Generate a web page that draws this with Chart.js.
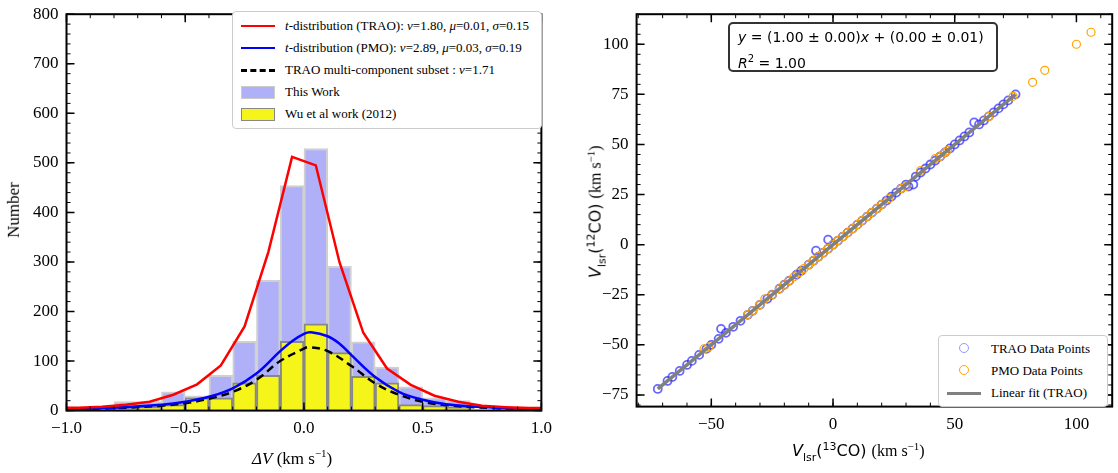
<!DOCTYPE html>
<html><head><meta charset="utf-8">
<script src="https://cdn.jsdelivr.net/npm/chart.js@4"></script>
<style>
body{margin:0;background:#fff;font-family:"Liberation Serif",serif;overflow:hidden;}
.box{position:absolute;}
.lbl{position:absolute;font-size:17px;color:#000;white-space:nowrap;}
.leg{position:absolute;background:#fff;border:1.5px solid #ccc;border-radius:4px;font-size:13px;}
.row{display:flex;align-items:center;height:22px;}
.sw{width:34px;margin:0 10px 0 8px;}
i{font-style:italic;}
</style></head><body>
<div class="box" style="left:0;top:-4px;width:560px;height:473px"><canvas id="hist"></canvas></div>
<div class="box" style="left:560px;top:-4px;width:558px;height:473px"><canvas id="scat"></canvas></div>

<div class="lbl" style="left:-14px;top:200px;transform:rotate(-90deg)">Number</div>
<div class="lbl" style="left:252px;top:447px"><i>ΔV</i> (km s<sup style="font-size:11px">−1</sup>)</div>
<div class="lbl" style="left:530px;top:200px;transform:rotate(-90deg);font-family:'DejaVu Sans';font-size:16px"><i>V</i><sub style="font-size:11px">lsr</sub>(<sup style="font-size:11px">12</sup>CO) <span style="font-family:'Liberation Serif'">(km s<sup style="font-size:11px">−1</sup>)</span></div>
<div class="lbl" style="left:792px;top:440px;font-family:'DejaVu Sans';font-size:16px"><i>V</i><sub style="font-size:11px">lsr</sub>(<sup style="font-size:11px">13</sup>CO) <span style="font-family:'Liberation Serif'">(km s<sup style="font-size:11px">−1</sup>)</span></div>

<div class="leg" style="left:232px;top:11px;width:308px;padding:3px 0">
 <div class="row"><div class="sw" style="border-top:2.5px solid red"></div><span><i>t</i>-distribution (TRAO): <i>ν</i>=1.80, <i>μ</i>=0.01, <i>σ</i>=0.15</span></div>
 <div class="row"><div class="sw" style="border-top:2.5px solid blue"></div><span><i>t</i>-distribution (PMO): <i>ν</i>=2.89, <i>μ</i>=0.03, <i>σ</i>=0.19</span></div>
 <div class="row"><div class="sw" style="border-top:3px dashed #000"></div><span>TRAO multi-component subset : <i>ν</i>=1.71</span></div>
 <div class="row"><div class="sw" style="height:13px;background:#b0b0f8;border:1.5px solid #ccc;box-sizing:border-box"></div><span>This Work</span></div>
 <div class="row"><div class="sw" style="height:13px;background:#f5f51a;border:1.5px solid #888;box-sizing:border-box"></div><span>Wu et al work (2012)</span></div>
</div>
<div class="leg" style="left:728px;top:22px;width:258px;height:44px;border:2px solid #333;border-radius:5px;font-family:'DejaVu Sans';font-size:14px;padding:2px 0 0 8px;line-height:22px">
 <i>y</i> = (1.00 ± 0.00)<i>x</i> + (0.00 ± 0.01)<br><i>R</i><sup style="font-size:10px">2</sup> = 1.00
</div>
<div class="leg" style="left:938px;top:335px;width:168px;padding:2px 0">
 <div class="row"><div class="sw" style="text-align:center"><span style="display:inline-block;width:8px;height:8px;border:1.5px solid #9999ff;border-radius:50%"></span></div><span>TRAO Data Points</span></div>
 <div class="row"><div class="sw" style="text-align:center"><span style="display:inline-block;width:8px;height:8px;border:1.5px solid orange;border-radius:50%"></span></div><span>PMO Data Points</span></div>
 <div class="row"><div class="sw" style="border-top:3px solid #808080"></div><span>Linear fit (TRAO)</span></div>
</div>

<script>
// histogram bins (centres) and counts
const binCenters = [-0.75,-0.65,-0.55,-0.45,-0.35,-0.25,-0.15,-0.05,0.05,0.15,0.25,0.35,0.45,0.55,0.65];
const thisWork  = [18,18,38,30,71,140,263,454,529,291,139,88,48,26,20];
const wuWork    = [4,8,12,26,26,56,71,140,175,117,69,56,12,10,7];

const redX = [-1,-0.95,-0.85,-0.75,-0.65,-0.55,-0.45,-0.35,-0.25,-0.15,-0.05,0.05,0.15,0.25,0.35,0.45,0.55,0.65,0.75,0.85,0.95,1];
const redY = [6,6,8,12,18,32,53,91,170,320,512,495,299,157,85,52,30,18,10,7,5,5];
const blueX = [-1,-0.8,-0.6,-0.5,-0.4,-0.3,-0.2,-0.1,-0.05,0,0.03,0.1,0.15,0.2,0.3,0.4,0.5,0.6,0.8,1];
const blueY = [3,6,12,18,28,45,75,120,140,155,158,150,135,112,68,38,22,13,6,3];
const blackX = [-1,-0.8,-0.6,-0.5,-0.4,-0.3,-0.2,-0.1,0,0.02,0.1,0.2,0.3,0.4,0.5,0.6,0.8,1];
const blackY = [3,5,10,15,24,38,62,100,125,128,120,90,55,32,18,11,5,3];

// scatter
const traoX = [-72,-68,-66,-63,-60,-58,-55,-52,-50,-47,-46,-44,-41,-38,-35,-33,-30,-27,-25,-22,-20,-18,-15,-13,-10,-8,-7,-6,-4,-2,-2,0,2,4,6,8,10,12,14,16,18,20,22,24,26,28,30,31,33,34,36,38,40,42,44,46,48,50,52,54,56,58,60,62,64,66,68,70,72,75];
const traoY = [-72,-68,-66,-63,-60,-58,-55,-52,-50,-47,-42,-44,-41,-38,-35,-33,-30,-27,-25,-22,-20,-18,-15,-13,-10,-8,-3,-6,-4,-2,2.5,0,2,4,6,8,10,12,14,16,18,20,22,24,26,28,30,29,30,34,36,38,40,42,44,46,48,50,52,54,56,61,60,62,64,66,68,70,72,75];
const pmoX = [-53,-51,-35,-33,-30,-28,-25,-22,-20,-18,-16,-14,-12,-10,-8,-6,-4,-2,0,2,4,6,8,10,12,14,16,18,20,23,28,30,36,42,44,46,47,64,74,82,87,100,106];
const pmoY = [-52,-51,-35,-33,-30,-27,-25,-22,-20,-18,-16,-14,-12,-10,-8,-6,-4,-2,0,2,4,6,8,10,12,14,16,18,20,23,28,29,37,43,44,46,47,64,74,81,87,100,106];
const fitX = [-72,75];
const fitY = [-72,75];

const tickFont = { family: 'Liberation Serif', size: 17 };
const minus = v => String(v).replace('-', '−');

// inward matplotlib-style ticks on all four sides
const inTicks = {
  id: 'inTicks',
  afterDraw(chart, args, opts) {
    const { ctx, chartArea: a, scales } = chart;
    ctx.save();
    ctx.strokeStyle = '#000';
    const drawSet = (scale, step, len, horiz) => {
      for (let v = Math.ceil(scale.min / step) * step; v <= scale.max + 1e-9; v += step) {
        const p = scale.getPixelForValue(v);
        ctx.lineWidth = len > 5 ? 1.5 : 1;
        ctx.beginPath();
        if (horiz) { ctx.moveTo(p, a.bottom); ctx.lineTo(p, a.bottom - len); ctx.moveTo(p, a.top); ctx.lineTo(p, a.top + len); }
        else { ctx.moveTo(a.left, p); ctx.lineTo(a.left + len, p); ctx.moveTo(a.right, p); ctx.lineTo(a.right - len, p); }
        ctx.stroke();
      }
    };
    drawSet(scales.x, opts.xs, 8, true);
    drawSet(scales.x, opts.xm, 4, true);
    drawSet(scales.y, opts.ys, 8, false);
    drawSet(scales.y, opts.ym, 4, false);
    ctx.lineWidth = 2;
    ctx.strokeRect(a.left, a.top, a.right - a.left, a.bottom - a.top);
    ctx.restore();
  }
};

const xy = (xs, ys) => xs.map((x, i) => ({ x, y: ys[i] }));

new Chart(document.getElementById('hist'), {
  data: {
    datasets: [
      { type: 'line', data: xy(redX, redY), borderColor: 'red', borderWidth: 2.5, pointRadius: 0, tension: 0, order: 1 },
      { type: 'line', data: xy(blueX, blueY), borderColor: 'blue', borderWidth: 2.5, pointRadius: 0, tension: 0.4, order: 2 },
      { type: 'line', data: xy(blackX, blackY), borderColor: '#000', borderDash: [8, 5], borderWidth: 2.5, pointRadius: 0, tension: 0.4, order: 3 },
      { type: 'bar', data: xy(binCenters, wuWork), backgroundColor: '#f5f51a', borderColor: '#888', borderWidth: 2, grouped: false, barPercentage: 1, categoryPercentage: 1, order: 4 },
      { type: 'bar', data: xy(binCenters, thisWork), backgroundColor: '#b0b0f8', borderColor: '#d0d0d0', borderWidth: 2, grouped: false, barPercentage: 1, categoryPercentage: 1, order: 5 },
    ]
  },
  options: {
    responsive: true, maintainAspectRatio: false, animation: false,
    layout: { padding: { left: 25, right: 16, top: 0, bottom: 22 } },
    plugins: { legend: { display: false }, tooltip: { enabled: false }, inTicks: { xs: 0.5, xm: 0.1, ys: 100, ym: 20 } },
    scales: {
      x: { type: 'linear', offset: false, min: -1, max: 1, grid: { display: false, drawTicks: false },
           ticks: { stepSize: 0.5, color: '#000', font: tickFont, padding: 8, callback: v => minus(v.toFixed(1)) } },
      y: { min: 0, max: 800, grid: { display: false, drawTicks: false },
           ticks: { stepSize: 100, color: '#000', font: tickFont, padding: 8 } }
    }
  },
  plugins: [inTicks]
});

new Chart(document.getElementById('scat'), {
  type: 'scatter',
  data: {
    datasets: [
      { type: 'line', data: xy(fitX, fitY), borderColor: '#808080', borderWidth: 3.5, pointRadius: 0, order: 1 },
      { data: xy(pmoX, pmoY), borderColor: 'orange', backgroundColor: 'transparent', borderWidth: 1.2, pointRadius: 4, order: 2 },
      { data: xy(traoX, traoY), borderColor: 'rgba(40,40,255,0.7)', backgroundColor: 'transparent', borderWidth: 1.8, pointRadius: 4, order: 3 },
    ]
  },
  options: {
    responsive: true, maintainAspectRatio: false, animation: false,
    layout: { padding: { left: 34, right: 2, top: 0, bottom: 26 } },
    plugins: { legend: { display: false }, tooltip: { enabled: false }, inTicks: { xs: 50, xm: 10, ys: 25, ym: 5 } },
    scales: {
      x: { min: -80.7, max: 114.7, grid: { display: false, drawTicks: false },
           ticks: { stepSize: 50, color: '#000', font: tickFont, padding: 8, callback: v => minus(v) },
           afterBuildTicks: s => { s.ticks = [-50, 0, 50, 100].map(v => ({ value: v })); } },
      y: { min: -80.8, max: 115, grid: { display: false, drawTicks: false },
           ticks: { color: '#000', font: tickFont, padding: 8, callback: v => minus(v) },
           afterBuildTicks: s => { s.ticks = [-75, -50, -25, 0, 25, 50, 75, 100].map(v => ({ value: v })); } }
    }
  },
  plugins: [inTicks]
});
</script>
</body></html>
